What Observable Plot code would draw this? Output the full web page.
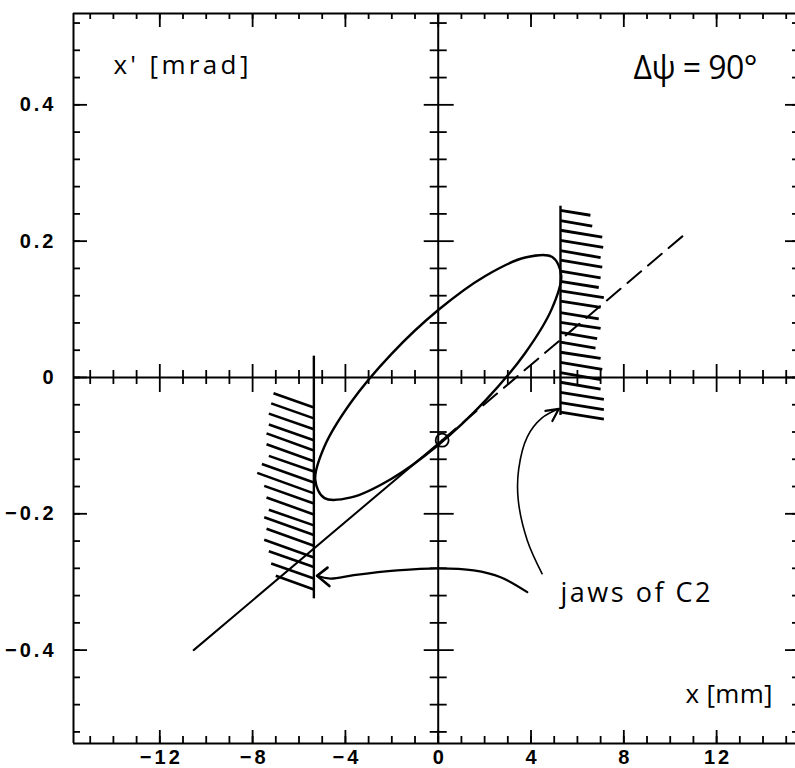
<!DOCTYPE html>
<html>
<head>
<meta charset="utf-8">
<script src="https://cdn.jsdelivr.net/npm/d3@7"></script>
<script src="https://cdn.jsdelivr.net/npm/@observablehq/plot@0.6"></script>
<style>
  html, body { margin: 0; padding: 0; background: #fff; overflow: hidden; }
  #chart svg { display: block; }
</style>
</head>
<body>
<div id="chart"></div>
<script>
// ---------- data ----------
const xMajorTicks = [-12, -8, -4, 0, 4, 8, 12];
const xMinorTicks = [-15, -14, -13, -12, -11, -10, -9, -8, -7, -6, -5, -4, -3, -2, -1, 0,
                     1, 2, 3, 4, 5, 6, 7, 8, 9, 10, 11, 12, 13, 14, 15];
const yMajorTicks = [-0.4, -0.2, 0, 0.2, 0.4];
const yMinorTicks = [-0.52, -0.48, -0.44, -0.40, -0.36, -0.32, -0.28, -0.24, -0.20, -0.16, -0.12, -0.08, -0.04, 0,
                     0.04, 0.08, 0.12, 0.16, 0.20, 0.24, 0.28, 0.32, 0.36, 0.40, 0.44, 0.48, 0.52];

// phase-space ellipse (x [mm], x' [mrad])
const ellipseX = [5.30, 4.90, 3.75, 2.03, 0.00, -2.03, -3.75, -4.90, -5.30, -4.90, -3.75, -2.03, 0.00, 2.03, 3.75, 4.90];
const ellipseY = [0.150, 0.101, 0.036, -0.034, -0.099, -0.149, -0.176, -0.177, -0.150, -0.101, -0.036, 0.034, 0.099, 0.149, 0.176, 0.177];

// straight line: solid part and dashed continuation
const solidLineX = [-10.54, 0.17];
const solidLineY = [-0.400, -0.092];
const dashedLineX = [0.17, 10.73];
const dashedLineY = [-0.092, 0.213];

// small circle on the line
const circleX = [0.17];
const circleY = [-0.092];

// collimator jaws (vertical bars)
const jawX = [-5.36, 5.27];
const jawTop = [0.032, 0.252];
const jawBottom = [-0.324, -0.055];

// hatching of the left jaw: point on jaw (y) and outer end (x, y)
const leftHatchJawY = [-0.044, -0.060, -0.076, -0.092, -0.107, -0.123, -0.138, -0.154, -0.170, -0.185,
                       -0.201, -0.217, -0.231, -0.247, -0.264, -0.278, -0.295, -0.311];
const leftHatchEndX = [-7.1, -7.2, -7.3, -7.3, -7.4, -7.4, -7.3, -7.6, -7.8, -7.5,
                       -7.4, -7.3, -7.5, -7.4, -7.5, -7.3, -7.2, -7.0];
const leftHatchEndY = [-0.023, -0.038, -0.053, -0.069, -0.082, -0.098, -0.115, -0.127, -0.140, -0.159,
                       -0.176, -0.194, -0.205, -0.222, -0.238, -0.255, -0.273, -0.291];

// hatching of the right jaw
const rightHatchJawY = [0.245, 0.230, 0.216, 0.201, 0.186, 0.172, 0.156, 0.141, 0.127, 0.112, 0.095,
                        0.081, 0.066, 0.052, 0.037, 0.022, 0.007, -0.007, -0.022, -0.037, -0.051];
const rightHatchEndX = [6.56, 6.64, 7.07, 7.11, 7.00, 7.07, 7.00, 6.92, 7.14, 7.00, 6.92,
                        7.00, 6.85, 6.78, 7.00, 7.07, 7.00, 7.00, 7.14, 7.14, 7.14];
const rightHatchEndY = [0.238, 0.222, 0.206, 0.191, 0.176, 0.162, 0.146, 0.132, 0.117, 0.103, 0.086,
                        0.072, 0.057, 0.043, 0.028, 0.012, -0.003, -0.017, -0.032, -0.047, -0.061];

// annotation arrows (shaft points) and their open arrowheads (arm, tip, arm)
const arrow1X = [3.84, 2.69, 1.53, 0.00, -1.77, -3.64, -4.64, -5.22];
const arrow1Y = [-0.315, -0.293, -0.283, -0.280, -0.283, -0.290, -0.295, -0.291];
const head1X = [-4.77, -5.22, -4.69];
const head1Y = [-0.279, -0.291, -0.306];
const arrow2X = [4.48, 3.84, 3.45, 3.47, 3.84, 4.45, 5.20];
const arrow2Y = [-0.288, -0.239, -0.180, -0.134, -0.087, -0.060, -0.046];
const head2X = [4.62, 5.20, 4.92];
const head2Y = [-0.049, -0.046, -0.064];

// annotation texts
const annotationText = ["x' [mrad]", "\u0394\u03c8 = 90\u00b0", "x [mm]", "jaws of C2"];
const annotationX = [-14.0, 8.42, 10.66, 5.27];
const annotationY = [0.458, 0.453, -0.466, -0.3165];

// ---------- layout / style ----------
const W = 795, H = 768, mL = 73, mR = 0, mT = 13, mB = 25;
const plotW = W - mL - mR, plotH = H - mT - mB;
const xDomain = [-15.72, 15.40];
const yDomain = [-0.537, 0.534];
const annotationSize = [26, 32, 26, 27];
const annotationWidth = [135, 124, 87, 150];

const fmt = d => (d < 0 ? "\u2212" : "") + String(Math.abs(d));
const tickLabelSet = new Set([...xMajorTicks, ...yMajorTicks].map(fmt));

const pts = (xs, ys) => xs.map((x, i) => ({x, y: ys[i]}));
const ellipse = pts(ellipseX, ellipseY);
const solidLine = pts(solidLineX, solidLineY);
const dashedLine = pts(dashedLineX, dashedLineY);
const circle = pts(circleX, circleY);
const jaws = jawX.map((x, i) => ({x, y1: jawTop[i], y2: jawBottom[i]}));
const leftHatch = leftHatchJawY.map((y, i) => ({x1: jawX[0], y1: y, x2: leftHatchEndX[i], y2: leftHatchEndY[i]}));
const rightHatch = rightHatchJawY.map((y, i) => ({x1: jawX[1], y1: y, x2: rightHatchEndX[i], y2: rightHatchEndY[i]}));
const arrow1 = pts(arrow1X, arrow1Y);
const arrow2 = pts(arrow2X, arrow2Y);
const head1 = pts(head1X, head1Y);
const head2 = pts(head2X, head2Y);
const annotations = annotationText.map((t, i) => ({t, x: annotationX[i], y: annotationY[i], i}));

const xMinorNZ = xMinorTicks.filter(d => d !== 0 && !xMajorTicks.includes(d));
const xMajorNZ = xMajorTicks.filter(d => d !== 0);
const yMinorNZ = yMinorTicks.filter(d => d !== 0 && !yMajorTicks.some(m => Math.abs(m - d) < 1e-9));
const yMajorNZ = yMajorTicks.filter(d => d !== 0);

const tickFont = "'Liberation Sans', Arial, sans-serif";
const handFont = "'Open Sans', 'Noto Sans', sans-serif";

const svg = Plot.plot({
  width: W, height: H,
  marginLeft: mL, marginRight: mR, marginTop: mT, marginBottom: mB,
  x: {domain: xDomain, axis: null},
  y: {domain: yDomain, axis: null},
  style: {background: "white", color: "black"},
  marks: [
    // frame (left, top, bottom; right edge lies just outside the picture)
    Plot.ruleX([xDomain[0]], {strokeWidth: 2}),
    Plot.ruleY(yDomain, {strokeWidth: 2}),
    // central axes
    Plot.ruleX([0], {strokeWidth: 2}),
    Plot.ruleY([0], {strokeWidth: 2}),

    // frame ticks: bottom
    Plot.tickX(xMinorTicks, {x: d => d, insetTop: plotH - 7, strokeWidth: 1.8}),
    Plot.tickX(xMajorTicks, {x: d => d, insetTop: plotH - 13, strokeWidth: 1.8}),
    // top
    Plot.tickX(xMinorTicks, {x: d => d, insetBottom: plotH - 6, strokeWidth: 1.8}),
    Plot.tickX(xMajorTicks, {x: d => d, insetBottom: plotH - 14, strokeWidth: 1.8}),
    // left
    Plot.tickY(yMinorTicks, {y: d => d, insetRight: plotW - 7, strokeWidth: 1.8}),
    Plot.tickY(yMajorTicks, {y: d => d, insetRight: plotW - 14, strokeWidth: 1.8}),
    // right (frame is just off the picture)
    Plot.tickY(yMinorTicks, {y: d => d, insetLeft: plotW - 3, strokeWidth: 1.8}),
    Plot.tickY(yMajorTicks, {y: d => d, insetLeft: plotW - 10, strokeWidth: 1.8}),

    // ticks across central horizontal axis
    Plot.ruleX(xMinorNZ, {x: d => d, y1: 0, y2: 0, insetTop: -7, insetBottom: -7, strokeWidth: 1.8}),
    Plot.ruleX(xMajorNZ, {x: d => d, y1: 0, y2: 0, insetTop: -13, insetBottom: -15, strokeWidth: 1.8}),
    // ticks across central vertical axis
    Plot.ruleY(yMinorNZ, {y: d => d, x1: 0, x2: 0, insetLeft: -8, insetRight: -9, strokeWidth: 1.8}),
    Plot.ruleY(yMajorNZ, {y: d => d, x1: 0, x2: 0, insetLeft: -14, insetRight: -16, strokeWidth: 1.8}),

    // tick labels
    Plot.text(xMajorTicks, {x: d => d, frameAnchor: "bottom", dy: 14, dx: 1.5, text: fmt,
      fontFamily: tickFont, fontWeight: "bold", fontSize: 20, lineAnchor: "middle"}),
    Plot.text(yMajorTicks, {y: d => d, frameAnchor: "left", dx: -17, textAnchor: "end", text: fmt,
      fontFamily: tickFont, fontWeight: "bold", fontSize: 20, lineAnchor: "middle"}),

    // jaws and hatching
    Plot.link(jaws, {x1: "x", x2: "x", y1: "y1", y2: "y2", strokeWidth: 2.4}),
    Plot.link(leftHatch, {x1: "x1", y1: "y1", x2: "x2", y2: "y2", strokeWidth: 2.6}),
    Plot.link(rightHatch, {x1: "x1", y1: "y1", x2: "x2", y2: "y2", strokeWidth: 2.8}),

    // ellipse
    Plot.line(ellipse, {x: "x", y: "y", curve: "catmull-rom-closed", strokeWidth: 2.4}),

    // straight line
    Plot.line(solidLine, {x: "x", y: "y", strokeWidth: 2}),
    Plot.line(dashedLine, {x: "x", y: "y", strokeWidth: 2, strokeDasharray: "18,9"}),
    Plot.dot(circle, {x: "x", y: "y", r: 6.5, stroke: "black", strokeWidth: 1.8, fill: "none"}),

    // arrows
    Plot.line(arrow1, {x: "x", y: "y", curve: "catmull-rom", strokeWidth: 2.2}),
    Plot.line(head1, {x: "x", y: "y", strokeWidth: 2.6}),
    Plot.line(arrow2, {x: "x", y: "y", curve: "catmull-rom", strokeWidth: 1.6}),
    Plot.line(head2, {x: "x", y: "y", strokeWidth: 2.2}),

    // annotations
    Plot.text(annotations, {x: "x", y: "y", text: "t", textAnchor: "start", lineAnchor: "middle",
      fontFamily: handFont, fontSize: d => annotationSize[d.i]})
  ]
});

// fine typographic adjustments (selected by text content)
d3.select(svg).selectAll("text").each(function() {
  const t = this.textContent;
  const sel = d3.select(this);
  if (tickLabelSet.has(t)) {
    sel.attr("letter-spacing", "3px").style("letter-spacing", "3px");
  }
  const idx = annotationText.indexOf(t);
  if (idx >= 0) {
    sel.attr("textLength", annotationWidth[idx]).attr("lengthAdjust", "spacing");
  }
});
document.getElementById("chart").append(svg);
</script>
</body>
</html>
